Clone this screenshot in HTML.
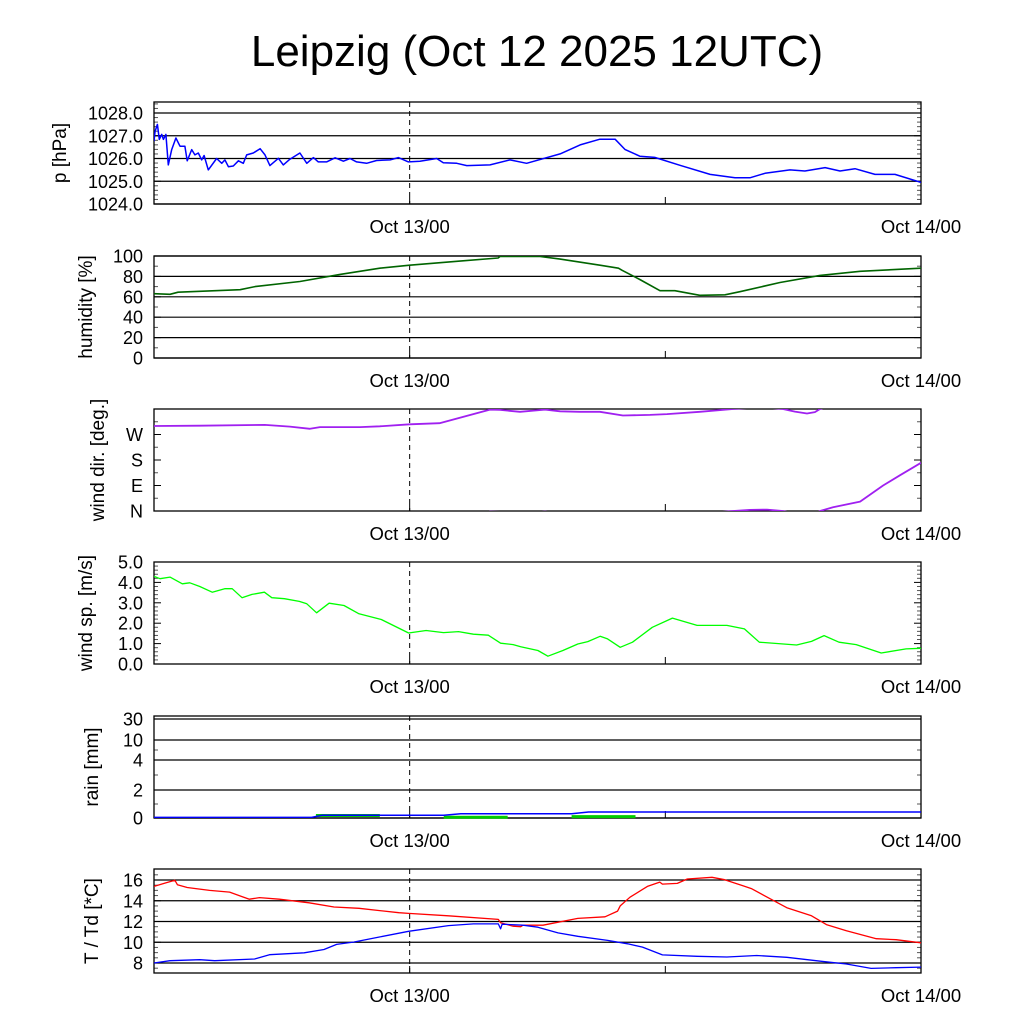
<!DOCTYPE html>
<html><head><meta charset="utf-8"><style>
html,body{margin:0;padding:0;background:#fff;}
svg{display:block;font-family:"Liberation Sans",sans-serif;}
</style></head><body>
<svg id="c" width="1024" height="1024" viewBox="0 0 1024 1024">
<text x="537" y="66" font-size="44" text-anchor="middle">Leipzig (Oct 12 2025 12UTC)</text>
</svg>
<script>
// ---- data (hours since Oct 12 12UTC) ----
const timeLabels = ["Oct 13/00", "Oct 14/00"];
const timeLabelHours = [12, 36];
const pHours = [0,0.05,0.16,0.25,0.36,0.44,0.56,0.67,0.83,1.03,1.22,1.45,1.56,1.77,1.92,2.08,2.24,2.35,2.55,2.94,3.18,3.33,3.49,3.72,3.96,4.19,4.35,4.66,4.98,5.21,5.44,5.84,6.07,6.38,6.85,7.17,7.48,7.71,8.1,8.5,8.89,9.2,9.51,9.98,10.45,11.08,11.47,11.94,12.48,13.27,13.58,14.21,14.68,15.77,16.71,17.49,19.06,20.0,20.93,21.64,22.1,22.8,23.5,24.69,26.1,27.27,27.97,28.68,29.85,30.55,31.5,32.2,32.9,33.84,34.78,36];
const pValues = [1026.76,1027.2,1027.5,1026.84,1027.06,1026.84,1027.06,1025.72,1026.39,1026.9,1026.54,1026.54,1025.9,1026.39,1026.16,1026.24,1025.94,1026.13,1025.5,1026.0,1025.79,1025.94,1025.64,1025.67,1025.9,1025.79,1026.16,1026.24,1026.43,1026.16,1025.69,1026.01,1025.72,1025.97,1026.24,1025.79,1026.04,1025.85,1025.85,1026.03,1025.88,1026.0,1025.85,1025.79,1025.91,1025.94,1026.04,1025.85,1025.88,1026.0,1025.81,1025.79,1025.69,1025.72,1025.94,1025.79,1026.2,1026.6,1026.85,1026.85,1026.4,1026.1,1026.05,1025.7,1025.3,1025.15,1025.15,1025.35,1025.5,1025.45,1025.6,1025.45,1025.55,1025.3,1025.3,1024.95];
const pTicks = [1024,1025,1026,1027,1028];
const rhHours = [0,0.75,1.13,4.04,4.74,6.85,8.73,10.6,12,14.36,16.15,16.24,18.12,19.06,20.93,21.8,21.97,22.8,23.75,24.45,25.62,26.8,27.5,29.38,31.26,33.14,36];
const rhValues = [63,62.5,64.5,67,70,75,82,88,91,95,98,99.5,99.5,97,91,88,86,77,66,66,61.5,62,65,74,81,85,88];
const rhTicks = [0,20,40,60,80,100];
const wdHours = [0,2.16,5.2,6.38,7.32,7.79,9.67,10.6,12,13.4,15.77,16.24,17.18,18.35,19.06,20,20.93,22.01,23.28,24.08,25.62,27.18,27.97,28.77,29.52,30.08,30.65,31.02,31.26,31.87,33.14,34.22,35.01,36];
const wdValues = [300,301,304,298,290,296,296,299,306,310,358,357,350,358,352,350,350,337,339,342,350,360,364,365,360,351,344,349,360,373,393,450,486,530];
const wdTicks = [0,90,180,270];
const wdTickLabels = ["N","E","S","W"];
const wsHours = [0,0.28,0.75,1.33,1.68,2.15,2.73,3.32,3.67,4.13,4.6,5.18,5.53,6.12,6.82,7.17,7.63,8.22,8.92,9.62,10.67,11.95,12.77,13.59,14.29,14.99,15.69,16.27,16.86,17.21,18.02,18.49,19.19,19.89,20.36,20.94,21.29,21.88,22.46,23.39,24.33,25.49,26.89,27.71,28.41,30.16,30.86,31.45,32.15,32.96,34.13,35.3,36];
const wsValues = [4.3,4.18,4.26,3.93,3.98,3.8,3.52,3.69,3.69,3.25,3.41,3.52,3.25,3.2,3.07,2.95,2.51,2.98,2.87,2.46,2.18,1.52,1.64,1.54,1.59,1.46,1.41,1.02,0.95,0.85,0.66,0.38,0.66,0.98,1.1,1.36,1.23,0.82,1.07,1.8,2.25,1.89,1.89,1.72,1.07,0.93,1.11,1.39,1.07,0.95,0.54,0.74,0.77];
const wsTicks = [0,1,2,3,4,5];
const rainHours = [0,7.4,7.9,13.6,14.4,19.6,20.4,36];
const rainValues = [0.04,0.04,0.2,0.2,0.3,0.3,0.43,0.43];
const rainBarStart = [7.6,13.6,19.6];
const rainBarEnd = [10.6,16.6,22.6];
const rainBarValues = [0.18,0.05,0.1];
const rainTicks = [0,2,4,10,30];
const tHours = [0,0.51,0.98,1.1,1.56,2.61,3.55,4.13,4.48,4.95,5.88,7.28,8.45,9.62,11.49,11.95,13.82,16.16,16.27,16.86,17.21,17.32,18.26,19.89,21.17,21.76,21.88,22.34,23.16,23.74,23.86,24.56,25.03,26.19,26.78,27.59,28.06,28.88,29.7,30.86,31.56,32.5,33.9,34.83,36];
const tValues = [15.38,15.7,15.97,15.55,15.28,15.0,14.83,14.4,14.15,14.3,14.15,13.8,13.4,13.27,12.85,12.78,12.55,12.2,11.87,11.55,11.5,11.64,11.64,12.3,12.45,13.0,13.5,14.34,15.38,15.8,15.6,15.67,16.1,16.26,16.03,15.48,15.15,14.24,13.33,12.55,11.7,11.1,10.34,10.25,9.95];
const tdHours = [0,0.75,2.15,2.85,4.72,5.42,7.05,7.98,8.57,9.39,10.55,11.95,13.82,14.99,16.16,16.27,16.34,17.32,18.02,18.96,19.89,21.29,22.23,22.93,23.86,25.49,26.89,28.29,29.7,31.33,32.5,33.66,34.83,36];
const tdValues = [8.0,8.22,8.32,8.22,8.39,8.8,8.98,9.3,9.79,10.02,10.5,11.06,11.6,11.77,11.77,11.3,11.74,11.64,11.45,10.9,10.57,10.18,9.85,9.53,8.78,8.65,8.58,8.72,8.55,8.16,7.9,7.48,7.55,7.6];
const tTicks = [8,10,12,14,16];

const svg = document.getElementById('c');
const NS = 'http://www.w3.org/2000/svg';
const X0 = 154, X1 = 921, H = 36;
function xs(h){ return X0 + h*(X1-X0)/H; }
function mk(tag, attrs, parent){
  const e = document.createElementNS(NS, tag);
  for (const k in attrs) e.setAttribute(k, attrs[k]);
  (parent||svg).appendChild(e);
  return e;
}
function lin(v0,v1,y0,y1){ return v => y0 + (v-v0)*(y1-y0)/(v1-v0); }
function pathD(hs, vs, ys){
  return hs.map((h,i)=>(i?'L':'M')+xs(h).toFixed(1)+' '+ys(vs[i]).toFixed(1)).join(' ');
}

function panel(o){
  const g = mk('g', {});
  
  
  if (o.grid) o.ticks.forEach(t=>{
    const gl = mk('line',{x1:X0,x2:X1,y1:o.ys(t),y2:o.ys(t),stroke:'#000','stroke-width':1.2},g);
    
    
  });
  o.ticks.forEach((t,i)=>{
    const y = o.ys(t);
    mk('line',{x1:X0,x2:X0+7,y1:y,y2:y,stroke:'#000'},g);
    mk('line',{x1:X1-7,x2:X1,y1:y,y2:y,stroke:'#000'},g);
    const tl = mk('text',{x:143,y:y+6.5,'font-size':18,'text-anchor':'end'},g);
    tl.textContent = o.labels ? o.labels[i] : t;
    
    
  });
  (o.minor||[]).forEach(t=>{
    const y = o.ys(t);
    mk('line',{x1:X0,x2:X0+4,y1:y,y2:y,stroke:'#555'},g);
    mk('line',{x1:X1-4,x2:X1,y1:y,y2:y,stroke:'#555'},g);
  });
  const dl = mk('line',{x1:xs(12),x2:xs(12),y1:o.top,y2:o.bot,stroke:'#000','stroke-dasharray':'5,4'},g);
  
  
  mk('line',{x1:xs(24),x2:xs(24),y1:o.bot-7,y2:o.bot,stroke:'#000'},g);
  mk('line',{x1:xs(12),x2:xs(12),y1:o.bot-7,y2:o.bot,stroke:'#000'},g);
  const fr = mk('rect',{x:X0,y:o.top,width:X1-X0,height:o.bot-o.top,fill:'none',stroke:'#000','stroke-width':1.3},g);
  
  
  timeLabels.forEach((s,i)=>{
    const t = mk('text',{x:xs(timeLabelHours[i]),y:o.bot+29,'font-size':18.5,'text-anchor':'middle'},g);
    t.textContent = s;
    
    
  });
  const cy = (o.top+o.bot)/2;
  const yt = mk('text',{x:o.tx,y:cy,'font-size':19,'text-anchor':'middle',transform:'rotate(-90 '+o.tx+' '+cy+')'},g);
  yt.textContent = o.title;
  
  
  const cp = mk('clipPath',{id:'clip-'+o.name},g);
  mk('rect',{x:X0,y:o.top,width:X1-X0,height:o.bot-o.top},cp);
  return g;
}
function series(g, name, hs, vs, ys, color, width){
  const p = mk('path',{d:pathD(hs,vs,ys),fill:'none',stroke:color,'stroke-width':width||1.5,'stroke-linejoin':'round','clip-path':'url(#clip-'+name.split('-')[0]+')'},g);
  
  
  return p;
}

const ysP = lin(1024,1028,204,113);
const gP = panel({name:'pressure',top:102,bot:204,ys:ysP,ticks:pTicks,labels:pTicks.map(v=>v.toFixed(1)),grid:true,
  minor:[1024.2,1024.4,1024.6,1024.8,1025.2,1025.4,1025.6,1025.8,1026.2,1026.4,1026.6,1026.8,1027.2,1027.4,1027.6,1027.8,1028.2,1028.4],title:'p [hPa]',tx:66});
series(gP,'pressure-line',pHours,pValues,ysP,'#0000ff',1.5);

const ysRH = lin(0,100,358,256);
const gRH = panel({name:'humidity',top:256,bot:358,ys:ysRH,ticks:rhTicks,grid:true,minor:[10,30,50,70,90],title:'humidity [%]',tx:92});
series(gRH,'humidity-line',rhHours,rhValues,ysRH,'#006400',1.6);

const ysWD = lin(0,360,511,409);
const gWD = panel({name:'winddir',top:409,bot:511,ys:ysWD,ticks:wdTicks,labels:wdTickLabels,grid:false,minor:[45,135,225,315],title:'wind dir. [deg.]',tx:104});
series(gWD,'winddir-line',wdHours,wdValues,ysWD,'#a020f0',1.8);
series(gWD,'winddir-wrapped-line',wdHours,wdValues.map(v=>v-360),ysWD,'#a020f0',1.8);

const ysWS = lin(0,5,664,562);
const gWS = panel({name:'windspeed',top:562,bot:664,ys:ysWS,ticks:wsTicks,labels:wsTicks.map(v=>v.toFixed(1)),grid:false,
  minor:[0.2,0.4,0.6,0.8,1.2,1.4,1.6,1.8,2.2,2.4,2.6,2.8,3.2,3.4,3.6,3.8,4.2,4.4,4.6,4.8],title:'wind sp. [m/s]',tx:92});
series(gWS,'windspeed-line',wsHours,wsValues,ysWS,'#00ff00',1.3);

const rainY = [818,790,760,740,719];
function ysR(v){
  for (let i=0;i<rainTicks.length-1;i++){
    if (v<=rainTicks[i+1]) return rainY[i] + (v-rainTicks[i])*(rainY[i+1]-rainY[i])/(rainTicks[i+1]-rainTicks[i]);
  }
  return rainY[rainY.length-1];
}
const gR = panel({name:'rain',top:716,bot:818,ys:ysR,ticks:rainTicks,grid:true,minor:[1,3,7],title:'rain [mm]',tx:98});
rainBarStart.forEach((s,i)=>{
  const b = mk('line',{x1:xs(s),x2:xs(rainBarEnd[i]),y1:ysR(rainBarValues[i]),y2:ysR(rainBarValues[i]),stroke:'#00cc00','stroke-width':3},gR);
  
  
});
series(gR,'rain-line',rainHours,rainValues,ysR,'#0000ff',1.5);

const ysT = lin(8,16,963,880);
const gT = panel({name:'temperature',top:869,bot:973,ys:ysT,ticks:tTicks,grid:true,minor:[7.5,8.5,9,9.5,10.5,11,11.5,12.5,13,13.5,14.5,15,15.5,16.5],title:'T / Td [*C]',tx:98});
series(gT,'temperature-line',tHours,tValues,ysT,'#ff0000',1.3);
series(gT,'dewpoint-line',tdHours,tdValues,ysT,'#0000ff',1.3);
</script>
</body></html>
